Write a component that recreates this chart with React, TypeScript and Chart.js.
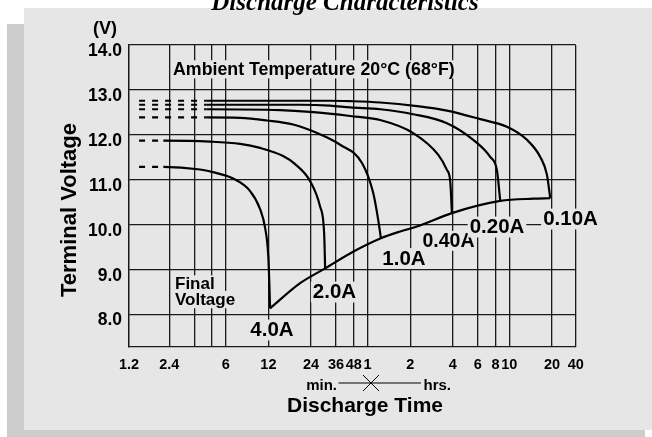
import React, { useEffect, useRef } from "react";
import { Chart, registerables } from "chart.js";

Chart.register(...registerables);

const W = 652;
const H = 437;

// X axis: discharge time in minutes (log scale)
const xMinMinutes = 1.25;
const xMaxMinutes = 1764;
const xTickMinutes = [1.25, 2.4, 3.6, 4.8, 6, 12, 24, 36, 48, 60, 120, 240, 360, 480, 600, 1200, 1764];
const xTickLabels = ["1.2", "2.4", "", "", "6", "12", "24", "36", "48", "1", "2", "4", "6", "8", "10", "20", "40"];

// Y axis: terminal voltage
const yMinVolt = 7.28;
const yMaxVolt = 14;
const yTickVolts = [8, 9, 10, 11, 12, 13, 14];

// Curves: [minutes, volts]
const seriesNames = ["0.10A", "0.20A", "0.40A", "1.0A", "2.0A", "4.0A"];
const curve010A = [
  [1.47, 12.76], [4.41, 12.76], [32.7, 12.76], [45.3, 12.75], [73.7, 12.72], [133.9, 12.64],
  [217.9, 12.54], [374, 12.35], [577, 12.18], [799, 11.89], [992, 11.51], [1106, 11.11], [1167, 10.59],
];
const curve020A = [
  [1.47, 12.67], [4.41, 12.67], [20.1, 12.67], [32.7, 12.65], [45.3, 12.61], [73.7, 12.57],
  [126, 12.46], [217.9, 12.26], [334, 11.89], [440, 11.51], [491, 11.21], [518, 10.53],
];
const curve040A = [
  [1.47, 12.57], [4.41, 12.57], [14.5, 12.55], [23.6, 12.51], [45.3, 12.42], [73.7, 12.33],
  [126, 12.04], [190, 11.55], [217.9, 11.22], [229.9, 10.97], [236.4, 10.26],
];
const curve100A = [
  [1.47, 12.39], [4.41, 12.39], [7.58, 12.38], [11.75, 12.32], [17.93, 12.23], [26.5, 12.04],
  [38.5, 11.78], [55, 11.37], [65.8, 10.71], [71.4, 10.11], [74.6, 9.7],
];
const curve200A = [
  [1.47, 11.87], [2.18, 11.87], [4.65, 11.85], [7.58, 11.8], [10.49, 11.71], [15.24, 11.53],
  [18.52, 11.35], [23.64, 10.97], [27.81, 10.4], [29.68, 9.81], [30.16, 9.03],
];
const curve400A = [
  [1.47, 11.29], [2.18, 11.29], [3.96, 11.23], [5.05, 11.16], [6.76, 11.03], [8.92, 10.75],
  [10.49, 10.35], [11.38, 9.93], [12.0, 9.26], [12.34, 8.14],
];
const finalVoltage = [
  [12.34, 8.14], [20.09, 8.7], [30.16, 9.03], [47.5, 9.4], [74.6, 9.7], [102, 9.85],
  [133.9, 9.96], [236.4, 10.26], [518, 10.53], [886, 10.58], [1167, 10.59],
];

const curves = [curve010A, curve020A, curve040A, curve100A, curve200A, curve400A];

const FONT = '"Liberation Sans", Arial, Helvetica, sans-serif';
const PANEL = "#e6e6e6";
const SHADOW = "#cccccc";
const INK = "#000000";
const GRID = "#1a1a1a";

const decor = {
  id: "decor",
  beforeDraw(chart: any) {
    const c = chart.ctx;
    c.save();
    c.fillStyle = "#ffffff";
    c.fillRect(0, 0, W, H);
    c.fillStyle = SHADOW;
    c.fillRect(7, 24, 638, H - 24);
    c.fillStyle = PANEL;
    c.fillRect(24, 8, W - 24, 422);
    c.restore();
  },
  beforeDatasetsDraw(chart: any) {
    const c = chart.ctx;
    c.save();
    c.textBaseline = "alphabetic";
    c.textAlign = "left";
    const label = (text: string, x: number, y: number, size: number, align: string) => {
      c.font = `bold ${size}px ${FONT}`;
      const w = c.measureText(text).width;
      const left = align === "center" ? x - w / 2 : x;
      c.fillStyle = PANEL;
      c.fillRect(left - 2, y - size * 0.8, w + 4, size * 1.02);
      c.fillStyle = INK;
      c.fillText(text, left, y);
    };
    label("Ambient Temperature 20°C (68°F)", 173, 74.5, 17.8, "left");
    label("Final", 175, 289, 17, "left");
    label("Voltage", 175, 304.5, 17, "left");
    label(seriesNames[5], 272, 336, 20.5, "center");
    label(seriesNames[4], 334.5, 298, 20.5, "center");
    label(seriesNames[3], 404, 264.5, 20.5, "center");
    label(seriesNames[2], 448.5, 246.5, 19.5, "center");
    label(seriesNames[1], 497, 233, 20.5, "center");
    label(seriesNames[0], 570.5, 225, 20.5, "center");
    c.restore();
  },
  afterDraw(chart: any) {
    const c = chart.ctx;
    const xs = chart.scales.x;
    c.save();
    c.fillStyle = INK;
    c.strokeStyle = INK;
    c.textBaseline = "alphabetic";

    // title (cut at top)
    c.font = `bold italic 25px "Liberation Serif", "Times New Roman", serif`;
    c.textAlign = "center";
    c.fillText("Discharge Characteristics", 345, 10);

    // unit
    c.font = `bold 18px ${FONT}`;
    c.textAlign = "center";
    c.fillText("(V)", 105, 34);

    // y title
    c.save();
    c.translate(76, 210);
    c.rotate(-Math.PI / 2);
    c.font = `bold 22px ${FONT}`;
    c.textAlign = "center";
    c.fillText("Terminal Voltage", 0, 0);
    c.restore();

    // min. —×— hrs.
    const hx = xs.getPixelForValue(60) + 3.5;
    c.font = `bold 15px ${FONT}`;
    c.textAlign = "right";
    c.fillText("min.", 337, 390);
    c.textAlign = "left";
    c.fillText("hrs.", 423.5, 390);
    c.lineWidth = 1;
    c.beginPath();
    c.moveTo(338.5, 383);
    c.lineTo(421, 383);
    c.moveTo(hx - 8, 375);
    c.lineTo(hx + 8, 391);
    c.moveTo(hx + 8, 375);
    c.lineTo(hx - 8, 391);
    c.stroke();

    // x title
    c.font = `bold 21px ${FONT}`;
    c.textAlign = "center";
    c.fillText("Discharge Time", 365, 412);
    c.restore();
  },
};

export default function App() {
  const ref = useRef<HTMLCanvasElement | null>(null);

  useEffect(() => {
    if (!ref.current) return;
    const datasets: any[] = curves.map((pts, i) => ({
      label: seriesNames[i],
      data: pts.map(([x, y]) => ({ x, y })),
      borderColor: INK,
      borderWidth: 2.2,
      pointRadius: 0,
      fill: false,
      cubicInterpolationMode: "monotone",
      borderCapStyle: "butt",
      borderJoinStyle: "round",
      segment: {
        borderDash: (ctx: any) => (ctx.p0DataIndex === 0 ? [6, 7] : undefined),
      },
    }));
    datasets.push({
      label: "Final Voltage",
      data: finalVoltage.map(([x, y]) => ({ x, y })),
      borderColor: INK,
      borderWidth: 2.2,
      pointRadius: 0,
      fill: false,
      cubicInterpolationMode: "monotone",
      borderJoinStyle: "round",
    });

    const chart = new Chart(ref.current, {
      type: "line",
      data: { datasets },
      options: {
        animation: false,
        responsive: false,
        devicePixelRatio: 1,
        layout: { padding: { left: 0, top: 45, right: 76.3, bottom: 0 } },
        plugins: { legend: { display: false }, tooltip: { enabled: false }, title: { display: false } },
        scales: {
          x: {
            type: "logarithmic",
            min: xMinMinutes,
            max: xMaxMinutes,
            afterBuildTicks: (scale: any) => {
              scale.ticks = xTickMinutes.map((v) => ({ value: v }));
            },
            afterFit: (scale: any) => {
              scale.height = 90;
            },
            grid: { color: GRID, lineWidth: 1.3, drawTicks: false },
            border: { color: GRID, width: 1.3 },
            ticks: {
              autoSkip: false,
              maxRotation: 0,
              minRotation: 0,
              padding: 9,
              color: INK,
              font: { family: FONT, size: 14.5, weight: "bold" },
              callback: (_v: any, i: number) => xTickLabels[i],
            },
          },
          y: {
            type: "linear",
            min: yMinVolt,
            max: yMaxVolt,
            afterBuildTicks: (scale: any) => {
              scale.ticks = yTickVolts.map((v) => ({ value: v }));
            },
            afterFit: (scale: any) => {
              scale.width = 129.1;
            },
            grid: { color: GRID, lineWidth: 1.3, drawTicks: false },
            border: { color: GRID, width: 1.3 },
            ticks: {
              padding: 7,
              labelOffset: 6,
              color: INK,
              font: { family: FONT, size: 17.5, weight: "bold" },
              callback: (v: any) => Number(v).toFixed(1),
            },
          },
        },
      },
      plugins: [decor],
    });
    return () => chart.destroy();
  }, []);

  return (
    <div style={{ position: "fixed", left: 0, top: 0, width: W, height: H }}>
      <canvas ref={ref} width={W} height={H} style={{ width: W, height: H, display: "block" }} />
    </div>
  );
}
